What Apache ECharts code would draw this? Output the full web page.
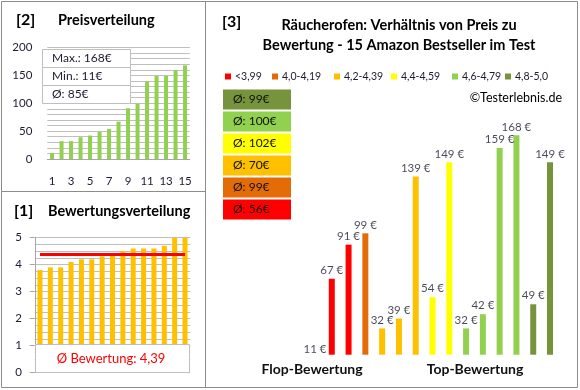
<!DOCTYPE html>
<html><head><meta charset="utf-8">
<script src="https://cdn.jsdelivr.net/npm/echarts@6/dist/echarts.min.js"></script>
<style>html,body{margin:0;padding:0;background:#fff}#c{width:580px;height:390px}</style>
</head><body><div id="c"></div>
<script>
// ---- data ----
const rankLabels = ['1','2','3','4','5','6','7','8','9','10','11','12','13','14','15'];
const pricesSorted = [11,32,32,39,42,49,54,67,91,99,139,149,149,159,168];
const ratingsSorted = [3.8,3.9,3.9,4.1,4.2,4.2,4.3,4.4,4.5,4.6,4.6,4.6,4.7,5.0,5.0];
const ratingAverage = 4.39;
const ratingAverageText = 'Ø Bewertung: 4,39';
const priceStatTexts = ['Max.: 168€','Min.: 11€','Ø: 85€'];
const products = ['P1','P2','P3','P4','P5','P6','P7','P8','P9','P10','P11','P12','P13','P14','P15'];
const prices = [11,67,91,99,32,39,139,54,149,32,42,159,168,49,149];
const productGroup = [0,0,0,1,2,2,2,3,3,4,4,4,4,5,5];
const groupNames = ['<3,99','4,0-4,19','4,2-4,39','4,4-4,59','4,6-4,79','4,8-5,0'];
const groupAvgTexts = ['Ø: 56€','Ø: 99€','Ø: 70€','Ø: 102€','Ø: 100€','Ø: 99€'];

// ---- styles ----
const FONT = 'Lato';
const groupColors = ['#FF0000','#E36C09','#FFC000','#FFFF00','#92D050','#77933C'];
const legendLeft = [225, 272, 334, 391, 452, 505];
const txt = '#1c1c30';
const gridGrey = '#BFBFBF';

const chart = echarts.init(document.getElementById('c'));

const groupSeries = groupNames.map((name, g) => ({
  type: 'bar', name: name, xAxisIndex: 2, yAxisIndex: 2,
  barWidth: 6, barGap: '-100%',
  itemStyle: { color: groupColors[g] },
  data: prices.map((p, i) => productGroup[i] === g ? p : '-')
}));

const graphics = [];
// panel borders
graphics.push({type:'rect', shape:{x:1.5,y:1.5,width:204,height:190}, style:{fill:'none',stroke:'#8c8c8c',lineWidth:1}});
graphics.push({type:'rect', shape:{x:1.5,y:191.5,width:204,height:196}, style:{fill:'none',stroke:'#8c8c8c',lineWidth:1}});
graphics.push({type:'rect', shape:{x:205.5,y:1.5,width:372,height:386}, style:{fill:'none',stroke:'#8c8c8c',lineWidth:1}});
// titles
const T = (text, x, y, font, align, fill) => ({type:'text', z:100, style:{text, x, y, font, fill: fill || '#000', textAlign: align || 'left', textVerticalAlign:'middle'}});
graphics.push(T('[2]', 16, 20, 'bold 16px ' + FONT));
graphics.push(T('Preisverteilung', 58, 20, 'bold 14.5px ' + FONT));
graphics.push(T('[1]', 14, 211, 'bold 16px ' + FONT));
graphics.push(T('Bewertungsverteilung', 48, 211, 'bold 14.5px ' + FONT));
graphics.push(T('[3]', 222, 22, 'bold 16px ' + FONT));
graphics.push(T('Räucherofen: Verhältnis von Preis zu', 399, 25, 'bold 14.5px ' + FONT, 'center'));
graphics.push(T('Bewertung - 15 Amazon Bestseller im Test', 399, 45, 'bold 14.5px ' + FONT, 'center'));
graphics.push(T('©Testerlebnis.de', 562, 98, '12.5px ' + FONT, 'right'));
graphics.push(T('Flop-Bewertung', 312, 369, 'bold 14px ' + FONT, 'center', '#111'));
graphics.push(T('Top-Bewertung', 475, 369, 'bold 14px ' + FONT, 'center', '#111'));
// stats box (top-left)
priceStatTexts.forEach((s, k) => {
  graphics.push({type:'rect', z:90, shape:{x:42.5, y:49.5 + k*18, width:88, height:18}, style:{fill:'#fff', stroke:gridGrey, lineWidth:1}});
  graphics.push(T(s, 52, 58.5 + k*18, '12px ' + FONT, 'left', txt));
});
// rating average box
graphics.push({type:'rect', z:90, shape:{x:35.5, y:344.5, width:154, height:28}, style:{fill:'#fff', stroke:gridGrey, lineWidth:1}});
graphics.push(T(ratingAverageText, 111, 358.5, '13px ' + FONT, 'center', '#FF0000'));
// group average boxes (top = best group)
for (let k = 0; k < 6; k++) {
  const g = 5 - k;
  graphics.push({type:'rect', z:90, shape:{x:223, y:89.5 + k*22, width:68, height:20}, style:{fill:groupColors[g]}});
  graphics.push(T(groupAvgTexts[g], 233, 99.5 + k*22, '12px ' + FONT, 'left', '#111'));
}

const legends = groupNames.map((name, g) => ({
  data: [name], left: legendLeft[g], top: 71, orient: 'horizontal',
  icon: 'rect', itemWidth: 6, itemHeight: 6, itemGap: 0, padding: 0,
  textStyle: { fontFamily: FONT, fontSize: 10.5, color: txt, padding: [0,0,0,-1] },
  selectedMode: false
}));

chart.setOption({
  animation: false,
  textStyle: { fontFamily: FONT },
  legend: legends,
  grid: [
    { left: 47.3, top: 47.5, width: 142.5, height: 111.5 },
    { left: 34.8, top: 237.7, width: 155.4, height: 135 },
    { left: 306.6, top: 118.3, width: 251.8, height: 236.4 }
  ],
  xAxis: [
    { gridIndex: 0, type: 'category', data: rankLabels,
      axisLine: { lineStyle: { color: '#a6a6a6' } }, axisTick: { show: false },
      axisLabel: { interval: 1, margin: 16, color: txt, fontSize: 11.5, fontFamily: FONT } },
    { gridIndex: 1, type: 'category', data: rankLabels, show: false },
    { gridIndex: 2, type: 'category', data: products, show: false }
  ],
  yAxis: [
    { gridIndex: 0, type: 'value', min: 0, max: 200, interval: 50,
      axisLine: { show: false }, axisTick: { show: false },
      axisLabel: { margin: 15, color: txt, fontSize: 11.5, fontFamily: FONT },
      splitLine: { lineStyle: { color: gridGrey } },
      minorTick: { show: false, splitNumber: 5 },
      minorSplitLine: { show: true, lineStyle: { color: gridGrey } } },
    { gridIndex: 1, type: 'value', min: 0, max: 5, interval: 1,
      axisLine: { show: true, lineStyle: { color: '#a6a6a6' } },
      axisTick: { show: true, length: 5, lineStyle: { color: '#a6a6a6' } },
      axisLabel: { margin: 13, color: txt, fontSize: 11.5, fontFamily: FONT },
      splitLine: { lineStyle: { color: gridGrey } },
      minorTick: { show: false, splitNumber: 4 },
      minorSplitLine: { show: true, lineStyle: { color: gridGrey } } },
    { gridIndex: 2, type: 'value', min: 13.5, max: 180, show: false, splitLine: { show: false } }
  ],
  graphic: { elements: graphics },
  series: [
    { type: 'bar', xAxisIndex: 0, yAxisIndex: 0, barWidth: 4, data: pricesSorted, itemStyle: { color: '#92D050' } },
    { type: 'bar', xAxisIndex: 1, yAxisIndex: 1, barWidth: 5, data: ratingsSorted, itemStyle: { color: '#FFC000' },
      markLine: { silent: true, symbol: 'none', label: { show: false },
        lineStyle: { color: '#FF0000', width: 3, type: 'solid' },
        data: [[ { coord: [rankLabels[0], ratingAverage] }, { coord: [rankLabels[rankLabels.length-1], ratingAverage] } ]] } },
    ...groupSeries,
    { type: 'scatter', xAxisIndex: 2, yAxisIndex: 2, clip: false, silent: true,
      symbolSize: 1, itemStyle: { color: 'rgba(0,0,0,0)' }, z: 5,
      label: { show: true, position: 'top', distance: 2, color: txt, fontSize: 11.5, fontFamily: FONT,
        formatter: p => p.value + ' €' },
      data: prices }
  ]
});
</script>
</body></html>
